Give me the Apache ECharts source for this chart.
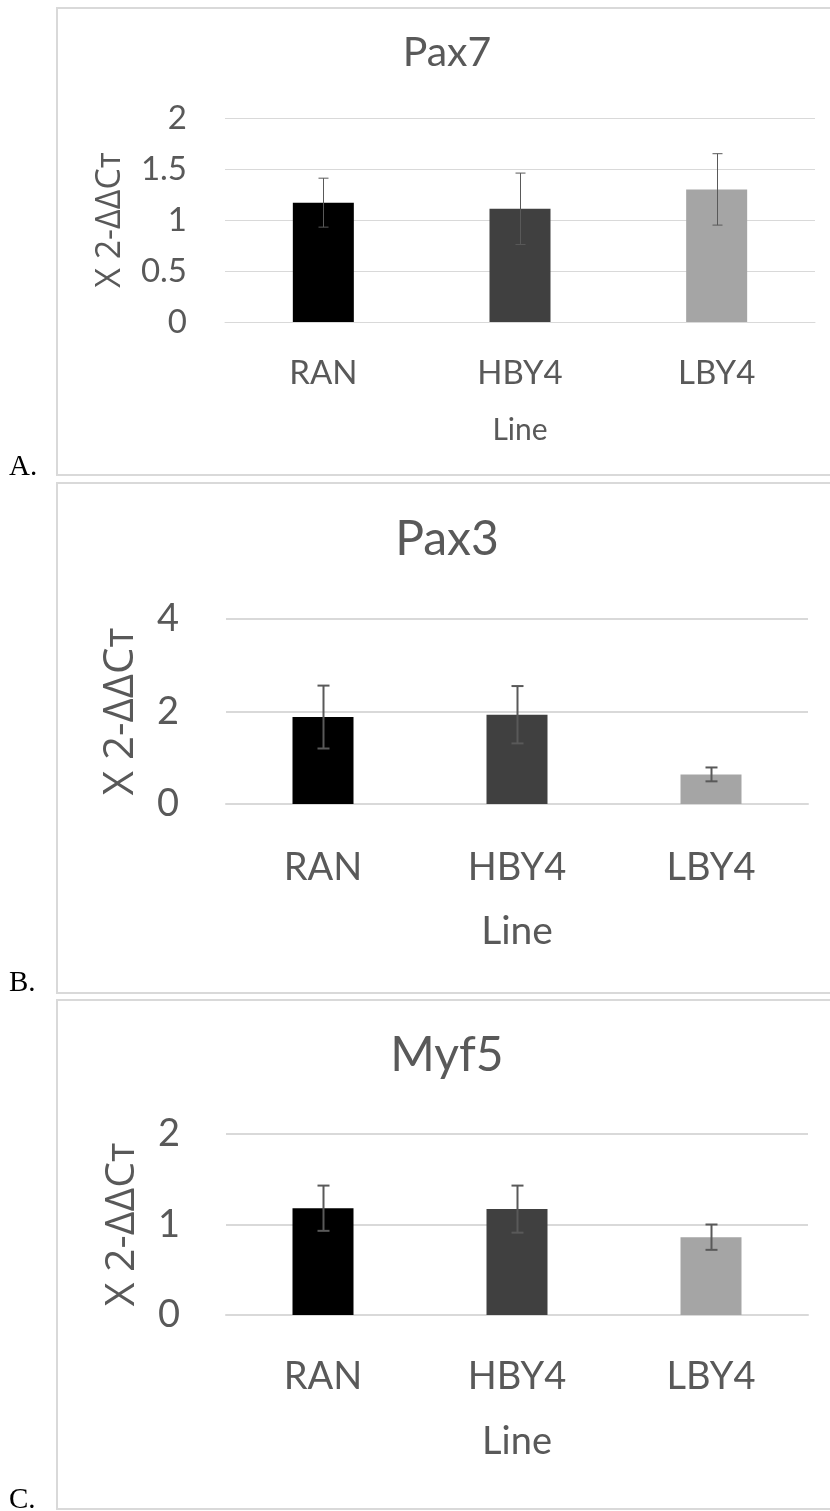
<!DOCTYPE html>
<html>
<head>
<meta charset="utf-8">
<script src="https://cdn.jsdelivr.net/npm/echarts@6/dist/echarts.min.js"></script>
<style>
html,body{margin:0;padding:0;background:#fff;}
#chart{width:830px;height:1511px;}
</style>
</head>
<body>
<div id="chart"></div>
<script>
// ---- data ----
const categories = ['RAN', 'HBY4', 'LBY4'];
const barColors = ['#000000', '#404040', '#a5a5a5'];

const pax7Means = [1.17, 1.11, 1.30];
const pax7Errors = [0.24, 0.35, 0.35];
const pax7Ticks = [0, 0.5, 1, 1.5, 2];

const pax3Means = [1.88, 1.93, 0.64];
const pax3Errors = [0.68, 0.62, 0.15];
const pax3Ticks = [0, 2, 4];

const myf5Means = [1.18, 1.17, 0.86];
const myf5Errors = [0.25, 0.26, 0.14];
const myf5Ticks = [0, 1, 2];

const panelTitles = ['Pax7', 'Pax3', 'Myf5'];
const panelLetters = ['A.', 'B.', 'C.'];
const xAxisName = 'Line';
const yAxisName = 'X 2-ΔΔCт';

// ---- styles / layout ----
const TXT = '#595959';
const GRID = '#d9d9d9';
const panels = [
  {means: pax7Means, errs: pax7Errors, ticks: pax7Ticks,
   grid: {left: 225, top: 118, width: 590, height: 204},
   tickFont: 33, nameFont: 30, yNameFont: 34, ylMargin: 38, xlMargin: 51, xNameGap: 108, yNameGap: 115,
   gridW: 1, errW: 1, capW: 10},
  {means: pax3Means, errs: pax3Errors, ticks: pax3Ticks,
   grid: {left: 226, top: 619, width: 582, height: 185},
   tickFont: 38, nameFont: 39, yNameFont: 42, ylMargin: 47, xlMargin: 64, xNameGap: 127, yNameGap: 105,
   gridW: 2, errW: 2, capW: 12},
  {means: myf5Means, errs: myf5Errors, ticks: myf5Ticks,
   grid: {left: 226, top: 1134, width: 582, height: 181},
   tickFont: 38, nameFont: 38, yNameFont: 41, ylMargin: 46, xlMargin: 62, xNameGap: 127, yNameGap: 104,
   gridW: 2, errW: 2, capW: 12}
];

function errRender(capW, lw) {
  return function (params, api) {
    const i = api.value(0);
    const pHi = api.coord([i, api.value(2)]);
    const pLo = api.coord([i, api.value(1)]);
    const st = {stroke: '#595959', lineWidth: lw};
    const x = Math.round(pHi[0]) + 0.5;
    return {
      type: 'group',
      children: [
        {type: 'line', shape: {x1: x, y1: pHi[1], x2: x, y2: pLo[1]}, style: st},
        {type: 'line', shape: {x1: x - capW / 2, y1: pHi[1], x2: x + capW / 2, y2: pHi[1]}, style: st},
        {type: 'line', shape: {x1: x - capW / 2, y1: pLo[1], x2: x + capW / 2, y2: pLo[1]}, style: st}
      ]
    };
  };
}

const grids = [], xAxes = [], yAxes = [], series = [];
panels.forEach((p, k) => {
  grids.push(Object.assign({containLabel: false}, p.grid));
  const t = p.ticks;
  xAxes.push({
    type: 'category', gridIndex: k, data: categories,
    axisTick: {show: false},
    axisLine: {show: true, lineStyle: {color: GRID, width: p.gridW}},
    axisLabel: {color: TXT, fontFamily: 'Lato', fontSize: p.tickFont, margin: p.xlMargin, verticalAlign: 'middle'},
    name: xAxisName, nameLocation: 'middle', nameGap: p.xNameGap,
    nameTextStyle: {color: TXT, fontFamily: 'Lato', fontSize: p.nameFont, verticalAlign: 'middle'}
  });
  yAxes.push({
    type: 'value', gridIndex: k, min: t[0], max: t[t.length - 1], interval: t[1] - t[0],
    axisLine: {show: false}, axisTick: {show: false},
    splitLine: {show: true, lineStyle: {color: GRID, width: p.gridW}},
    axisLabel: {color: TXT, fontFamily: 'Lato', fontSize: p.tickFont, margin: p.ylMargin},
    name: yAxisName, nameLocation: 'middle', nameGap: p.yNameGap,
    nameTextStyle: {color: TXT, fontFamily: 'Open Sans', fontSize: p.yNameFont, verticalAlign: 'middle'}
  });
  series.push({
    type: 'bar', xAxisIndex: k, yAxisIndex: k, barWidth: 61,
    data: p.means.map((v, i) => ({value: v, itemStyle: {color: barColors[i]}})),
    silent: true, animation: false
  });
  series.push({
    type: 'custom', xAxisIndex: k, yAxisIndex: k,
    renderItem: errRender(p.capW, p.errW),
    encode: {x: 0, y: [1, 2]},
    data: p.means.map((v, i) => [i, v - p.errs[i], v + p.errs[i]]),
    silent: true, animation: false, z: 5
  });
});

const frames = [
  {top: 8, bottom: 475},
  {top: 483, bottom: 993},
  {top: 1000, bottom: 1509}
];
const titlePos = [{y: 53, size: 41}, {y: 540, size: 48}, {y: 1056, size: 48}];
const letterY = [467, 983, 1500];

const graphics = [];
frames.forEach((f, k) => {
  graphics.push({
    type: 'rect', z: -1,
    shape: {x: 57, y: f.top, width: 800, height: f.bottom - f.top},
    style: {fill: 'none', stroke: GRID, lineWidth: 2}
  });
  graphics.push({
    type: 'text', x: 447, y: titlePos[k].y,
    style: {text: panelTitles[k], fill: TXT, font: titlePos[k].size + 'px Lato', align: 'center', verticalAlign: 'middle'}
  });
  graphics.push({
    type: 'text', x: 9, y: letterY[k],
    style: {text: panelLetters[k], fill: '#000', font: '29px "Liberation Serif"', align: 'left', verticalAlign: 'middle'}
  });
});

const chart = echarts.init(document.getElementById('chart'), null, {renderer: 'canvas'});
chart.setOption({
  animation: false,
  backgroundColor: '#ffffff',
  grid: grids,
  xAxis: xAxes,
  yAxis: yAxes,
  series: series,
  graphic: graphics
});
</script>
</body>
</html>
